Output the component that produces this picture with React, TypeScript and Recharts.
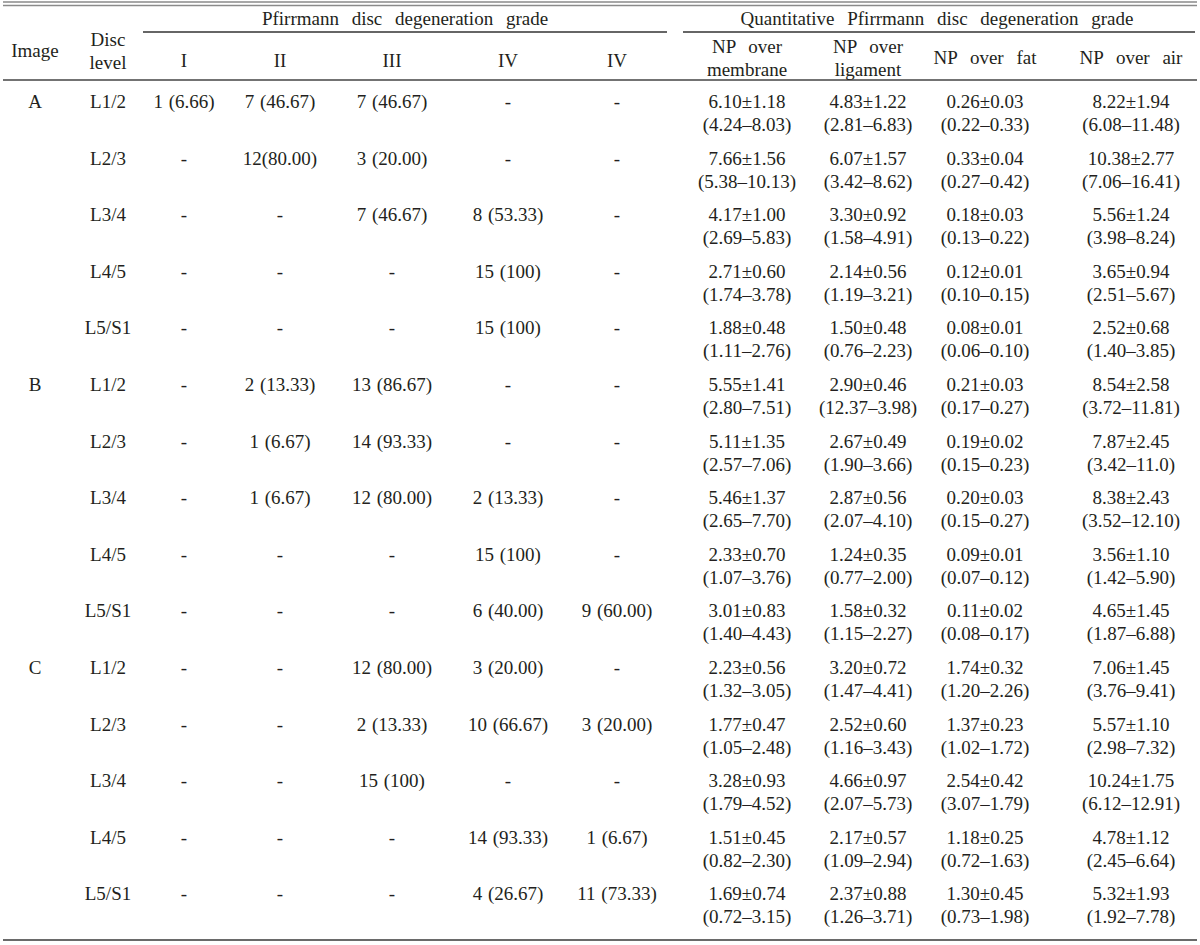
import { ScatterChart, Scatter, XAxis, YAxis, ReferenceLine } from "recharts";

// ─── Table data ───────────────────────────────────────────────────────────────

const images = ["A", "B", "C"];
const discLevels = ["L1/2", "L2/3", "L3/4", "L4/5", "L5/S1"];

const gradeHeaders = ["I", "II", "III", "IV", "IV"];
const quantHeaders = [["NP over", "membrane"], ["NP over", "ligament"], ["NP over fat"], ["NP over air"]];

// Pfirrmann grade, n (%), rows = A L1/2 … C L5/S1
const gradeI = ["1 (6.66)", "-", "-", "-", "-", "-", "-", "-", "-", "-", "-", "-", "-", "-", "-"];
const gradeII = ["7 (46.67)", "12(80.00)", "-", "-", "-", "2 (13.33)", "1 (6.67)", "1 (6.67)", "-", "-", "-", "-", "-", "-", "-"];
const gradeIII = ["7 (46.67)", "3 (20.00)", "7 (46.67)", "-", "-", "13 (86.67)", "14 (93.33)", "12 (80.00)", "-", "-", "12 (80.00)", "2 (13.33)", "15 (100)", "-", "-"];
const gradeIV = ["-", "-", "8 (53.33)", "15 (100)", "15 (100)", "-", "-", "2 (13.33)", "15 (100)", "6 (40.00)", "3 (20.00)", "10 (66.67)", "-", "14 (93.33)", "4 (26.67)"];
const gradeIV2 = ["-", "-", "-", "-", "-", "-", "-", "-", "-", "9 (60.00)", "-", "3 (20.00)", "-", "1 (6.67)", "11 (73.33)"];

// Quantitative grade, mean±SD and (range)
const npMembrane = [
    ["6.10±1.18", "(4.24–8.03)"], ["7.66±1.56", "(5.38–10.13)"], ["4.17±1.00", "(2.69–5.83)"], ["2.71±0.60", "(1.74–3.78)"], ["1.88±0.48", "(1.11–2.76)"],
    ["5.55±1.41", "(2.80–7.51)"], ["5.11±1.35", "(2.57–7.06)"], ["5.46±1.37", "(2.65–7.70)"], ["2.33±0.70", "(1.07–3.76)"], ["3.01±0.83", "(1.40–4.43)"],
    ["2.23±0.56", "(1.32–3.05)"], ["1.77±0.47", "(1.05–2.48)"], ["3.28±0.93", "(1.79–4.52)"], ["1.51±0.45", "(0.82–2.30)"], ["1.69±0.74", "(0.72–3.15)"],
];
const npLigament = [
    ["4.83±1.22", "(2.81–6.83)"], ["6.07±1.57", "(3.42–8.62)"], ["3.30±0.92", "(1.58–4.91)"], ["2.14±0.56", "(1.19–3.21)"], ["1.50±0.48", "(0.76–2.23)"],
    ["2.90±0.46", "(12.37–3.98)"], ["2.67±0.49", "(1.90–3.66)"], ["2.87±0.56", "(2.07–4.10)"], ["1.24±0.35", "(0.77–2.00)"], ["1.58±0.32", "(1.15–2.27)"],
    ["3.20±0.72", "(1.47–4.41)"], ["2.52±0.60", "(1.16–3.43)"], ["4.66±0.97", "(2.07–5.73)"], ["2.17±0.57", "(1.09–2.94)"], ["2.37±0.88", "(1.26–3.71)"],
];
const npFat = [
    ["0.26±0.03", "(0.22–0.33)"], ["0.33±0.04", "(0.27–0.42)"], ["0.18±0.03", "(0.13–0.22)"], ["0.12±0.01", "(0.10–0.15)"], ["0.08±0.01", "(0.06–0.10)"],
    ["0.21±0.03", "(0.17–0.27)"], ["0.19±0.02", "(0.15–0.23)"], ["0.20±0.03", "(0.15–0.27)"], ["0.09±0.01", "(0.07–0.12)"], ["0.11±0.02", "(0.08–0.17)"],
    ["1.74±0.32", "(1.20–2.26)"], ["1.37±0.23", "(1.02–1.72)"], ["2.54±0.42", "(3.07–1.79)"], ["1.18±0.25", "(0.72–1.63)"], ["1.30±0.45", "(0.73–1.98)"],
];
const npAir = [
    ["8.22±1.94", "(6.08–11.48)"], ["10.38±2.77", "(7.06–16.41)"], ["5.56±1.24", "(3.98–8.24)"], ["3.65±0.94", "(2.51–5.67)"], ["2.52±0.68", "(1.40–3.85)"],
    ["8.54±2.58", "(3.72–11.81)"], ["7.87±2.45", "(3.42–11.0)"], ["8.38±2.43", "(3.52–12.10)"], ["3.56±1.10", "(1.42–5.90)"], ["4.65±1.45", "(1.87–6.88)"],
    ["7.06±1.45", "(3.76–9.41)"], ["5.57±1.10", "(2.98–7.32)"], ["10.24±1.75", "(6.12–12.91)"], ["4.78±1.12", "(2.45–6.64)"], ["5.32±1.93", "(1.92–7.78)"],
];

// ─── Layout ───────────────────────────────────────────────────────────────────

const W = 1200;
const H = 945;
const FONT = '"Liberation Serif", "Times New Roman", serif';
const INK = "#231f20";
const ROW_TOP = 101;     // first text line of first body row (px)
const ROW_PITCH = 56.6;  // body row height (px)
const LINE_GAP = 23;     // second line offset inside a cell (px)

const COL_IMAGE = 35;
const COL_DISC = 108;
const COL_GRADES = [184, 280, 392, 508, 617];
const COL_QUANT = [747, 868, 985, 1131];

const toRow = (px: number) => (px - ROW_TOP) / ROW_PITCH;

type Cell = { x: number; y: number; lines: string[]; ws?: number };

const bodyRows = images.flatMap((img) => discLevels.map((lvl, j) => ({ image: j === 0 ? img : "", level: lvl })));

const bodyColumns: Cell[][] = [
    bodyRows.map((r, i) => ({ x: COL_IMAGE, y: i, lines: [r.image] })),
    bodyRows.map((r, i) => ({ x: COL_DISC, y: i, lines: [r.level] })),
    ...[gradeI, gradeII, gradeIII, gradeIV, gradeIV2].map((col, k) =>
        col.map((v, i) => ({ x: COL_GRADES[k], y: i, lines: [v] }))
    ),
    ...[npMembrane, npLigament, npFat, npAir].map((col, k) =>
        col.map((v, i) => ({ x: COL_QUANT[k], y: i, lines: v }))
    ),
];

const headerCells: Cell[] = [
    { x: COL_IMAGE, y: toRow(50), lines: ["Image"] },
    { x: COL_DISC, y: toRow(39), lines: ["Disc", "level"] },
    { x: 405, y: toRow(18), lines: ["Pfirrmann disc degeneration grade"], ws: 8 },
    { x: 937, y: toRow(18), lines: ["Quantitative Pfirrmann disc degeneration grade"], ws: 8 },
    ...gradeHeaders.map((h, k) => ({ x: COL_GRADES[k], y: toRow(60), lines: [h] })),
    ...quantHeaders.map((h, k) => ({
        x: COL_QUANT[k],
        y: toRow(h.length > 1 ? 46 : 57),
        lines: h,
        ws: 8,
    })),
];

const CellText = (props: any) => {
    const { cx, cy, payload } = props;
    return (
        <text
            x={cx}
            y={cy}
            textAnchor="middle"
            dominantBaseline="central"
            fontFamily={FONT}
            fontSize={19}
            fill={INK}
            style={{ wordSpacing: payload.ws ?? 1 }}
        >
            {payload.lines.map((t: string, j: number) => (
                <tspan key={j} x={cx} y={cy + j * LINE_GAP}>{t}</tspan>
            ))}
        </text>
    );
};

const rule = (px: number, x1: number, x2: number, stroke: string, width: number, key: string) => (
    <ReferenceLine
        key={key}
        segment={[{ x: x1, y: toRow(px) }, { x: x2, y: toRow(px) }]}
        stroke={stroke}
        strokeWidth={width}
    />
);

export default function App() {
    return (
        <div style={{ position: "absolute", left: 0, top: 0, width: W, height: H, background: "#fff" }}>
            <ScatterChart width={W} height={H} margin={{ top: 0, right: 0, bottom: 0, left: 0 }}>
                <XAxis type="number" dataKey="x" domain={[0, W]} allowDataOverflow hide />
                <YAxis type="number" dataKey="y" domain={[toRow(0), toRow(H)]} allowDataOverflow reversed hide />
                {rule(2, 3, 1197, "#8a8a8a", 1.5, "top1")}
                {rule(5.5, 3, 1197, "#8a8a8a", 1.5, "top2")}
                {rule(32, 143, 667, "#333", 1.3, "under1")}
                {rule(32, 683, 1195, "#333", 1.3, "under2")}
                {rule(80, 3, 1197, "#444", 1.5, "head")}
                {rule(940, 3, 1197, "#6a6a6a", 2, "bottom")}
                <Scatter data={headerCells} shape={CellText} isAnimationActive={false} />
                {bodyColumns.map((col, k) => (
                    <Scatter key={k} data={col} shape={CellText} isAnimationActive={false} />
                ))}
            </ScatterChart>
        </div>
    );
}
